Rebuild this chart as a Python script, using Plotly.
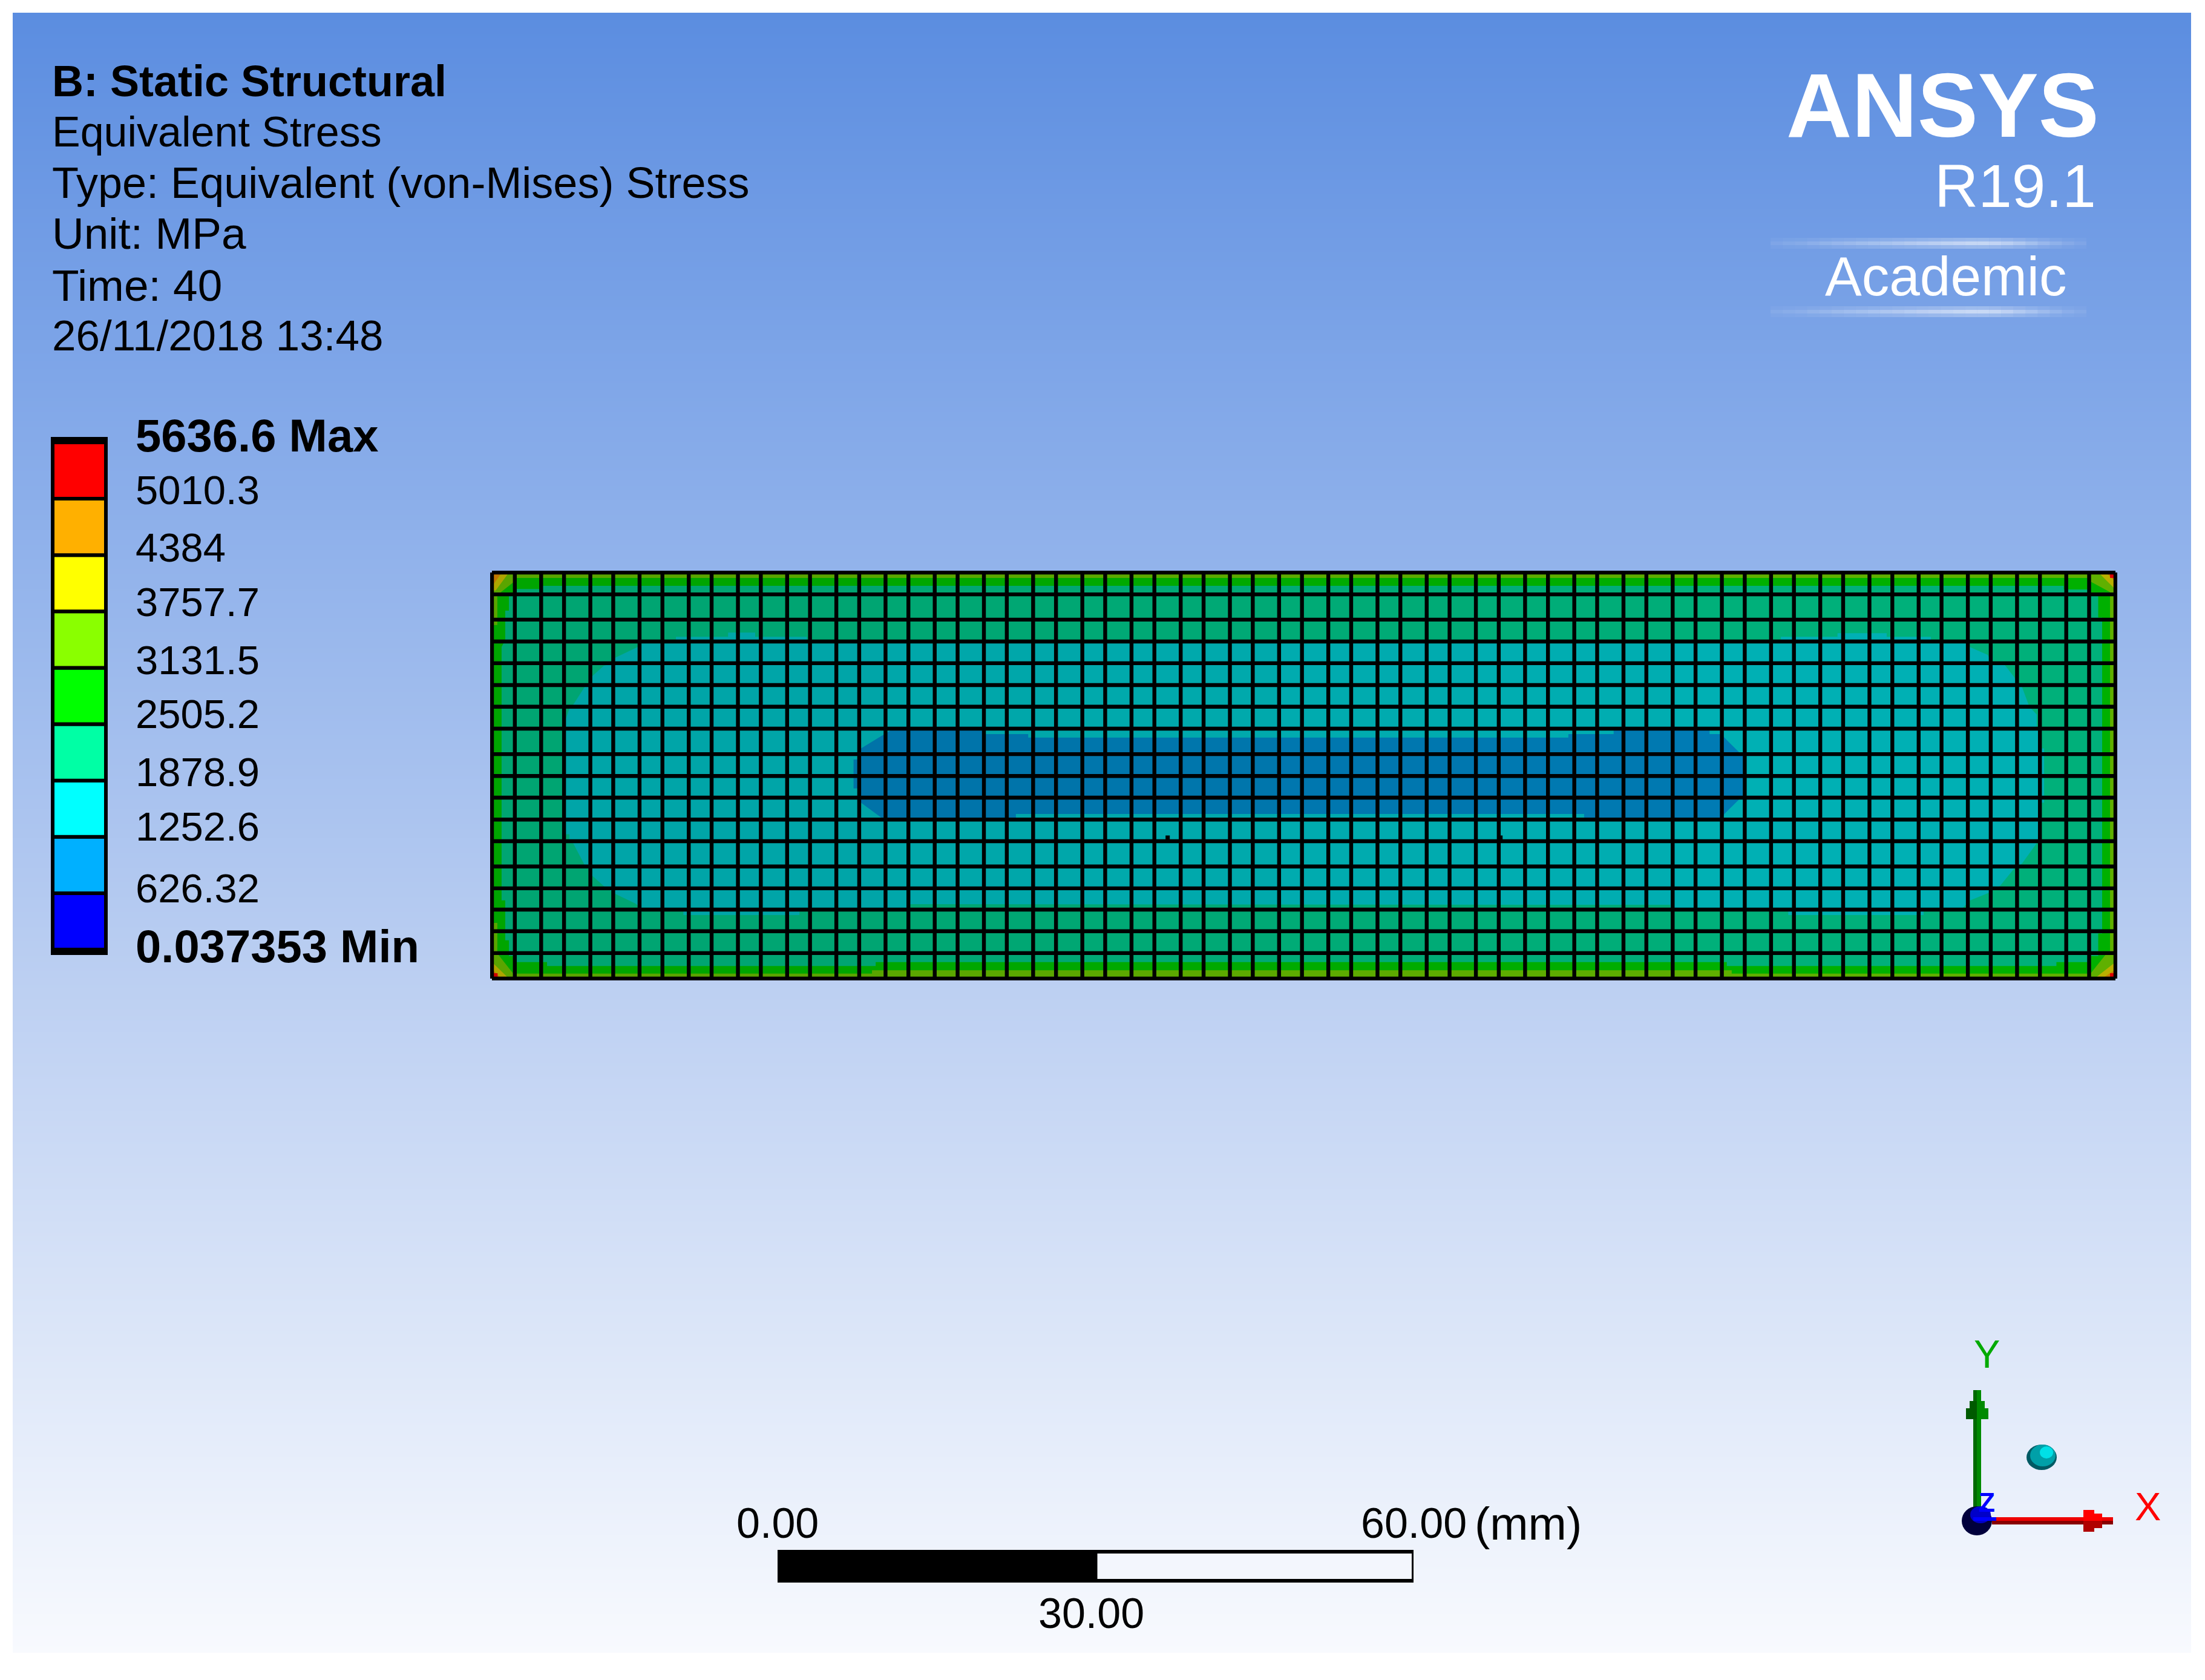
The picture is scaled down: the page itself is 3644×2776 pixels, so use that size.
import plotly.graph_objects as go

W, H = 3644, 2776
FONT = "Liberation Sans"

# stress levels of the contour legend (MPa)
LEVELS = [0.037353, 626.32, 1252.6, 1878.9, 2505.2, 3131.5, 3757.7, 4384, 5010.3, 5636.6]
LEVEL_LABELS = ["<b>0.037353 Min</b>", "626.32", "1252.6", "1878.9", "2505.2",
                "3131.5", "3757.7", "4384", "5010.3", "<b>5636.6 Max</b>"]
LEGEND_COLORS = ["#0000ff", "#00b0ff", "#00ffff", "#00ffa5", "#00ff00",
                 "#8aff00", "#ffff00", "#ffb000", "#ff0000"]

HEADER = ["<b>B: Static Structural</b>", "Equivalent Stress", "Type: Equivalent (von-Mises) Stress",
          "Unit: MPa", "Time: 40", "26/11/2018 13:48"]

SCALE_TICKS = [0, 30, 60]
SCALE_LABELS = ["0.00", "30.00", "60.00"]

# background gradient read down the picture
BG_Y = [21, 620, 1640, 2731]
BG_COLORS = ["#5b8de0", "#7fa6e8", "#bdd0f2", "#f8fafe"]

# mesh lines, in element widths / heights of the plate
MESH_U = [0, 0.93, 2, 2.93, 4, 4.93, 6, 6.93, 8, 8.93, 10, 10.93, 12, 12.93, 14, 14.93, 16, 16.93,
          18, 18.93, 20, 20.93, 22, 22.93, 24, 24.93, 26, 26.93, 28, 28.93, 30, 30.93, 32, 32.93,
          34, 34.93, 36, 36.93, 38, 38.93, 40, 40.93, 42, 42.93, 44, 44.93, 46, 46.93, 48, 48.93,
          50, 50.93, 52, 52.93, 54, 54.93, 56, 56.93, 58, 58.93, 60, 60.93, 62, 62.93, 64, 64.93, 66]
MESH_V = [0, 0.97, 2.09, 3.06, 4.02, 4.99, 5.95, 6.92, 8.05, 9.02, 9.98, 10.95, 11.91, 13.03,
          14.0, 14.94, 15.9, 16.87, 18]
NICK_U = [27.47, 41.0]
NICK_V = [11.75, 11.75]

# contour bands, outlines
PLATE = [[(0, 0), (66, 0), (66, 18), (0, 18)]]
TEAL_ZONE = [[(3, 6.5), (3.16, 6.0), (3.3, 5.87), (3.77, 5.07), (4.07, 5), (4.07, 4.6), (4.55, 4.13), (5, 4),
              (5, 3.78), (5.93, 3.3), (6, 3), (7.48, 3), (7.48, 2.85), (9.6, 2.85), (9.6, 2.66), (10.7, 2.66),
              (10.7, 2.85), (12.8, 2.85), (12.8, 3), (52.4, 3), (52.4, 2.85), (54.7, 2.85), (54.7, 2.69),
              (56.7, 2.69), (56.7, 2.85), (58.5, 2.85), (58.5, 3), (60.07, 3), (60.07, 3.3), (60.8, 3.65),
              (61, 4), (61.5, 4.1), (61.9, 4.66), (62, 5), (62.2, 5.07), (62.5, 5.95), (62.8, 6.3), (62.8, 7),
              (63, 7), (63, 7.8), (63.1, 7.8), (63.1, 10.2), (63, 10.2), (63, 12), (62.8, 12), (62.2, 12.9),
              (61.9, 13.1), (61.3, 13.9), (61, 14), (60.85, 14.2), (60.08, 14.54), (59.8, 14.86), (59.8, 15),
              (58.2, 15), (58.2, 15.18), (52.7, 15.18), (52.7, 15), (47.9, 15), (47.9, 14.73), (17, 14.7),
              (17, 15), (12.5, 15), (12.5, 15.18), (7.78, 15.18), (7.78, 15), (6.22, 15), (5.83, 14.67),
              (5, 14.24), (4.55, 13.9), (4.07, 13.43), (4.07, 13), (3.76, 12.95), (3.3, 12), (3.15, 12),
              (3.15, 11.6), (3, 11.6)]]
BLUE_ZONE = [[(15, 7.8), (16.2, 7), (20.07, 7), (20.07, 7.16), (21.8, 7.16), (21.8, 7.32), (43.76, 7.32),
              (43.76, 7.16), (45.6, 7.16), (45.6, 7), (49.5, 7), (49.5, 7.16), (50, 7.16), (50.1, 7.32),
              (50.7, 7.97), (50.85, 8), (50.85, 10), (50.7, 10.06), (50.1, 10.7), (50, 11), (44.4, 11),
              (44.4, 10.7), (21.3, 10.7), (21.3, 11), (16, 11), (15.6, 10.68), (15, 10.2), (15, 9.57),
              (14.7, 9.57), (14.7, 8.29), (15, 8.29)]]
GREEN_ZONE = [[(0, 0), (66, 0), (66, 0.75), (63.9, 0.75), (63.9, 0.59), (2, 0.59), (2, 0.73), (0, 0.73)],
              [(0, 0), (1, 0), (1, 1), (0, 1)],
              [(65, 0), (66, 0), (66, 1), (65, 1)],
              [(0, 1), (0.69, 1), (0.69, 1.69), (0.54, 1.69), (0.54, 3), (0.39, 3.3), (0.39, 14.53), (0.54, 14.53),
               (0.54, 16.3), (0.69, 16.3), (0.69, 17), (0, 17)],
              [(66, 1), (65.3, 1), (65.3, 2), (65.46, 2), (65.46, 16), (65.3, 16), (65.3, 17), (66, 17)],
              [(0, 17), (1, 17), (1, 17.27), (2.24, 17.27), (2.24, 17.44), (15.6, 17.44), (15.6, 17.27),
               (50.2, 17.27), (50.2, 17.44), (63.6, 17.44), (63.6, 17.27), (65, 17.27), (65, 17), (66, 17),
               (66, 18), (0, 18)]]
OLIVE_ZONE = [[(0, 0), (66, 0), (66, 0.24), (0, 0.24)],
              [(0, 0), (0.22, 0), (0.22, 2.33), (0, 2.33)],
              [(0, 15.53), (0.22, 15.53), (0.22, 18), (0, 18)],
              [(65.78, 0), (66, 0), (66, 18), (65.78, 18)],
              [(0, 17.78), (15.45, 17.78), (15.45, 17.63), (50.4, 17.63), (50.4, 17.78), (66, 17.78), (66, 18), (0, 18)],
              [(0, 0), (0.9, 0), (0.9, 0.41), (0.27, 0.95), (0, 0.95)],
              [(65, 0), (66, 0), (66, 1), (65, 0.41)],
              [(0, 16.9), (0.23, 16.9), (0.85, 17.76), (0.85, 18), (0, 18)],
              [(65.63, 16.9), (66, 16.9), (66, 18), (65, 18), (65, 17.76)]]
YELLOW_ZONE = [[(0, 0), (0.69, 0), (0.15, 0.8), (0, 0.8)],
               [(65.31, 0), (66, 0), (66, 0.75)],
               [(0, 17.27), (0.69, 18), (0, 18)],
               [(66, 17.27), (66, 18), (65.15, 18)]]
ORANGE_ZONE = [[(0, 0), (0.4, 0), (0.08, 0.5), (0, 0.5)],
               [(65.61, 0), (66, 0), (66, 0.41)],
               [(0, 17.58), (0.38, 18), (0, 18)],
               [(66, 17.59), (66, 18), (65.46, 18)]]
RED_ZONE = [[(65.78, 0), (66, 0), (66, 0.24), (65.78, 0.24)],
            [(0, 17.76), (0.23, 17.76), (0.23, 18), (0, 18)],
            [(65.78, 17.76), (66, 17.76), (66, 18), (65.78, 18)]]

# the display lighting dims the plate towards its left end
SHADE_U = [0, 16, 24, 32, 40, 48, 66]
SHADE_ALPHA = [0.0625, 0.05, 0.04, 0.028, 0.012, 0.0]


def dom_x(left, right):
    return [left / W, right / W]


def dom_y(top, bottom):
    return [1 - bottom / H, 1 - top / H]


fig = go.Figure()

# background
fig.add_trace(go.Heatmap(
    x=[0, 1], y=BG_Y, z=[[y, y] for y in BG_Y], zsmooth="best", showscale=False, hoverinfo="skip",
    colorscale=[[(y - BG_Y[0]) / (BG_Y[-1] - BG_Y[0]), c] for y, c in zip(BG_Y, BG_COLORS)],
    xaxis="x", yaxis="y"))

# plate
bands = [(PLATE, "#00b07a"), (TEAL_ZONE, "#00b0b4"), (BLUE_ZONE, "#007bb4"), (GREEN_ZONE, "#00b000"),
         (OLIVE_ZONE, "#60b000"), (YELLOW_ZONE, "#bbb000"), (ORANGE_ZONE, "#cc7e00"), (RED_ZONE, "#dd0000")]
for zone, color in bands:
    for outline in zone:
        fig.add_trace(go.Scatter(
            x=[p[0] for p in outline], y=[p[1] for p in outline], mode="none", fill="toself",
            fillcolor=color, hoverinfo="skip", xaxis="x2", yaxis="y2"))

mesh_x, mesh_y = [], []
for u in MESH_U:
    mesh_x += [u, u, None]
    mesh_y += [MESH_V[0], MESH_V[-1], None]
for v in MESH_V:
    mesh_x += [MESH_U[0], MESH_U[-1], None]
    mesh_y += [v, v, None]
fig.add_trace(go.Scatter(x=mesh_x, y=mesh_y, mode="lines", line=dict(color="black", width=6.4, ),
                         hoverinfo="skip", xaxis="x2", yaxis="y2"))
fig.add_trace(go.Scatter(x=NICK_U, y=NICK_V, mode="markers", marker=dict(color="black", size=7, symbol="square"),
                         hoverinfo="skip", xaxis="x2", yaxis="y2"))

# contour legend
fig.add_trace(go.Bar(x=[0], y=[5757.6], base=[-60.5], width=1, marker=dict(color="black", line_width=0),
                     hoverinfo="skip", xaxis="x3", yaxis="y3"))
fig.add_trace(go.Bar(x=[0] * 9, y=[b - a for a, b in zip(LEVELS, LEVELS[1:])], base=LEVELS[:-1], width=0.936,
                     marker=dict(color=LEGEND_COLORS, line=dict(color="black", width=6)),
                     hoverinfo="skip", xaxis="x3", yaxis="y3"))

# scale bar
fig.add_trace(go.Bar(y=[0, 0], x=[30, 30], base=SCALE_TICKS[:2], orientation="h", width=0.89,
                     marker=dict(color=["black", "#f3f6fd"], line=dict(color="black", width=6)),
                     hoverinfo="skip", xaxis="x4", yaxis="y4"))

hidden = dict(visible=False, fixedrange=True)
fig.update_layout(
    width=W, height=H, margin=dict(l=0, r=0, t=0, b=0), paper_bgcolor="white", plot_bgcolor="rgba(0,0,0,0)",
    showlegend=False, barmode="overlay", font=dict(family=FONT, color="black"),
    xaxis=dict(domain=dom_x(21, 3621), range=[0, 1], **hidden),
    yaxis=dict(domain=dom_y(21, 2731), range=[2731, 21], **hidden),
    # axes reach half a line past the plate so the outer mesh lines are not clipped
    xaxis2=dict(domain=dom_x(810, 3499), range=[-0.074, 66.074], anchor="y2", **hidden),
    yaxis2=dict(domain=dom_y(943, 1620), range=[18.08, -0.08], anchor="x2", **hidden),
    xaxis3=dict(domain=dom_x(84, 178), range=[-0.5, 0.5], anchor="y3", **hidden),
    yaxis3=dict(domain=dom_y(722, 1578), range=[-60.5, 5697.1], anchor="x3", **hidden),
    xaxis4=dict(domain=dom_x(1285, 2336), range=[0, 60], anchor="y4", **hidden),
    yaxis4=dict(domain=dom_y(2561, 2615), range=[-0.5, 0.5], anchor="x4", **hidden),
)


def text_at(text, x, y, size, color="black", anchor="left"):
    fig.add_annotation(text=text, x=x / W, y=1 - y / H, xref="paper", yref="paper", xanchor=anchor,
                       yanchor="middle", showarrow=False, font=dict(size=size, color=color, family=FONT))


def rect(x0, y0, x1, y1, color, opacity=1):
    fig.add_shape(type="rect", x0=x0 / W, x1=x1 / W, y0=1 - y0 / H, y1=1 - y1 / H, xref="paper", yref="paper",
                  fillcolor=color, opacity=opacity, line_width=0)


def poly(points, color):
    path = "M" + "L".join(f"{x / W},{1 - y / H}" for x, y in points) + "Z"
    fig.add_shape(type="path", path=path, xref="paper", yref="paper", fillcolor=color, line_width=0)


def disc(cx, cy, rx, ry, color):
    fig.add_shape(type="circle", x0=(cx - rx) / W, x1=(cx + rx) / W, y0=1 - (cy - ry) / H, y1=1 - (cy + ry) / H,
                  xref="paper", yref="paper", fillcolor=color, line_width=0)


# plate shading
for i, alpha in enumerate(SHADE_ALPHA):
    if alpha > 0:
        fig.add_shape(type="rect", x0=SHADE_U[i], x1=SHADE_U[i + 1], y0=0, y1=18, xref="x2", yref="y2",
                      fillcolor="black", opacity=alpha, line_width=0)

# header block
for line, y, size in zip(HEADER, [134, 218, 302, 386, 471, 554], [72, 70, 72, 73, 73, 71]):
    text_at(line, 84, y, size)

# legend labels
label_sizes = [76, 67, 67, 67, 67, 67, 67, 67, 67, 76]
for value, label, shift, size in zip(LEVELS, LEVEL_LABELS, [6, 8, 17, 14, 17, 13, 16, 13, 15, 11], label_sizes):
    fig.add_annotation(text=label, x=222 / W, y=value, xref="paper", yref="y3", yshift=shift, xanchor="left",
                       yanchor="middle", showarrow=False, font=dict(size=size, color="black", family=FONT))

# scale bar labels
for tick, label, y, nudge in zip(SCALE_TICKS, SCALE_LABELS, [2517, 2666, 2517], [0, -7, 0]):
    fig.add_annotation(text=label, x=tick, y=1 - y / H, xref="x4", yref="paper", xanchor="center", yanchor="middle",
                       xshift=nudge, showarrow=False, font=dict(size=70, color="black", family=FONT))
text_at("(mm)", 2435, 2517, 76)

# logo
text_at("<b>ANSYS</b>", 3210, 174, 150, "white", "center")
text_at("R19.1", 3466, 307, 100, "white", "right")
text_at("Academic", 3216, 456, 91, "white", "center")
GLOW_ALPHA = [0.1, 0.13, 0.16, 0.2, 0.24, 0.28, 0.32, 0.36, 0.4, 0.44, 0.48, 0.52, 0.56, 0.6, 0.64,
              0.68, 0.72, 0.72, 0.68, 0.6, 0.5, 0.4, 0.3, 0.22, 0.15, 0.1]
step = (3448 - 2926) / len(GLOW_ALPHA)
for y in [402, 515]:
    for i, alpha in enumerate(GLOW_ALPHA):
        x0 = 2926 + i * step
        rect(x0, y - 9, x0 + step, y + 9, "white", alpha * 0.4)
        rect(x0, y - 3, x0 + step, y + 3, "white", alpha * 0.6)

# coordinate triad
rect(3261, 2297, 3267, 2510, "#006a00")
rect(3267, 2297, 3274, 2510, "#008a00")
poly([(3255, 2315), (3267, 2315), (3267, 2345), (3249, 2345), (3249, 2327), (3255, 2327)], "#005a00")
poly([(3267, 2315), (3280, 2315), (3280, 2327), (3286, 2327), (3286, 2345), (3267, 2345)], "#008a00")
disc(3267, 2513, 25, 24, "#00003c")
disc(3273, 2503, 17, 14, "#0000c8")
rect(3292, 2507, 3492, 2513, "#ee0000")
rect(3292, 2513, 3492, 2519, "#880000")
poly([(3443, 2495), (3461, 2495), (3461, 2501), (3474, 2501), (3474, 2513), (3443, 2513)], "#ff0000")
poly([(3443, 2513), (3474, 2513), (3474, 2525), (3461, 2525), (3461, 2531), (3443, 2531)], "#b00000")
rect(3261, 2507, 3299, 2513, "#0000ff")
disc(3374, 2408, 25, 21, "#005a64")
disc(3376, 2405, 21, 18, "#00a0a8")
disc(3382, 2400, 11, 10, "#00e0e6")
text_at("Y", 3283, 2237, 65, "#00aa00", "center")
text_at("X", 3549, 2489, 65, "#ff0000", "center")
text_at("<b>Z</b>", 3283, 2482, 44, "#0000ff", "center")

fig.write_html("out.html", config={"displayModeBar": False},
               post_script="document.body.style.margin='0';document.documentElement.style.overflow='hidden';")
